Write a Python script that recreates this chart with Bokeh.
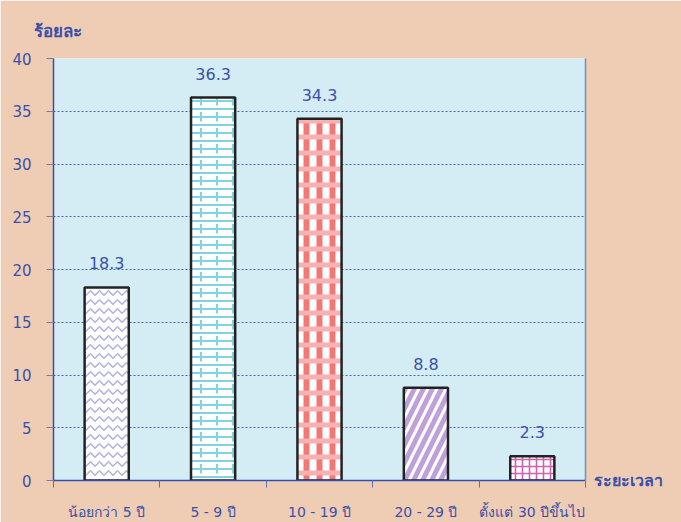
from bokeh.plotting import figure
from bokeh.models import ColumnDataSource, LabelSet, FixedTicker, LinearAxis, Range1d, Title
from bokeh.core.properties import value
from bokeh.embed import file_html
from bokeh.resources import INLINE

# ---- data ----
categories = ["น้อยกว่า 5 ปี", "5 - 9 ปี", "10 - 19 ปี", "20 - 29 ปี", "ตั้งแต่ 30 ปีขึ้นไป"]
values = [18.3, 36.3, 34.3, 8.8, 2.3]
y_ticks = [0, 5, 10, 15, 20, 25, 30, 35, 40]
y_title = "ร้อยละ"
x_title = "ระยะเวลา"

# ---- styles ----
hatch1 = ["horizontal_wave", "horizontal_line", "vertical_line", "right_diagonal_line", "cross"]
hcol1 = ["#b0b0e0", "#80d4dc", "#f07878", "#c0a0d8", "#d060b0"]
hw1 = [1.5, 2, 6, 5, 1.6]
hs1 = [9, 8, 13, 18, 7]
hatch2 = [" ", "vertical_dash", "horizontal_line", " ", " "]
hcol2 = ["#ffffff", "#80d4dc", "#f8b0b0", "#ffffff", "#ffffff"]
hw2 = [1, 2, 5, 1, 1]
hs2 = [10, 16, 16, 10, 10]

TXT = "#3a50a8"
FONT = "DejaVu Sans"

n = len(categories)
xs = [i + 0.5 for i in range(n)]

src = ColumnDataSource(dict(x=xs, top=values, cat=categories,
                            label=[f"{v:.1f}" for v in values],
                            h1=hatch1, c1=hcol1, w1=hw1, s1=hs1,
                            h2=hatch2, c2=hcol2, w2=hw2, s2=hs2))

p = figure(width=681, height=522, output_backend="svg", toolbar_location=None,
           x_range=Range1d(0, n), y_range=Range1d(0, 40),
           min_border_left=53, min_border_right=96, min_border_top=57, min_border_bottom=42)
p.extra_y_ranges = {"xt": Range1d(0, 40)}

p.border_fill_color = "#efcdb5"
p.background_fill_color = "#d4ecf4"
p.outline_line_color = None

p.xgrid.grid_line_color = None
p.ygrid.ticker = FixedTicker(ticks=y_ticks)
p.ygrid.grid_line_color = "#4a60b0"
p.ygrid.grid_line_dash = "2 2"
p.ygrid.grid_line_width = 1

BW = 0.415
p.vbar(x="x", top="top", width=BW, bottom=0, source=src, fill_color="white",
       line_color=None, hatch_pattern="h1", hatch_color="c1", hatch_weight="w1", hatch_scale="s1")
p.vbar(x="x", top="top", width=BW, bottom=0, source=src, fill_color=None,
       line_color=None, hatch_pattern="h2", hatch_color="c2", hatch_weight="w2", hatch_scale="s2")
p.vbar(x="x", top="top", width=BW, bottom=0, source=src, fill_color=None,
       line_color="#222222", line_width=2.5)

labels = LabelSet(x="x", y="top", text="label", source=src, y_offset=24,
                  text_align="center", text_baseline="middle", text_color=TXT,
                  text_font_size="16px", text_font=value(FONT))
p.add_layout(labels)

# y axis
ya = p.yaxis[0]
ya.ticker = FixedTicker(ticks=y_ticks)
ya.axis_line_color = "#3050b0"
ya.axis_line_width = 1.5
ya.major_tick_line_color = "#7080a0"
ya.major_tick_out = 7
ya.major_tick_in = 0
ya.minor_tick_line_color = None
ya.major_label_text_color = TXT
ya.major_label_text_font_size = "15px"
ya.major_label_text_font = FONT
ya.major_label_standoff = 15

# x axis
xa = p.xaxis[0]
xa.ticker = FixedTicker(ticks=xs, minor_ticks=list(range(n + 1)))
xa.major_label_overrides = {x: c for x, c in zip(xs, categories)}
xa.axis_line_color = "#3050b0"
xa.axis_line_width = 1.5
xa.major_tick_line_color = None
xa.major_tick_out = 0
xa.major_tick_in = 0
xa.minor_tick_line_color = "#6070b8"
xa.minor_tick_out = 7
xa.minor_tick_in = 0
xa.major_label_text_color = TXT
xa.major_label_text_font_size = "14px"
xa.major_label_text_font = FONT
xa.major_label_standoff = 16

# right border line, whose single tick label (at the bottom) carries the x title
ra = LinearAxis(y_range_name="xt", ticker=FixedTicker(ticks=[y_ticks[0]]),
                axis_line_color="#7a88c8", axis_line_width=1.5,
                major_tick_line_color=None, minor_tick_line_color=None,
                major_tick_out=0, major_tick_in=0,
                major_label_overrides={y_ticks[0]: x_title},
                major_label_text_color=TXT, major_label_text_font_size="16px",
                major_label_text_font=FONT, major_label_text_font_style="bold",
                major_label_text_align="left", major_label_text_baseline="top",
                major_label_standoff=8)
p.add_layout(ra, "right")

# y title as left-aligned title above the frame
t = Title(text=y_title, align="left", offset=-20, text_color=TXT, text_font_size="17px",
          text_font=FONT, text_font_style="bold", standoff=36)
p.add_layout(t, "above")

open("out.html", "w").write(file_html(p, INLINE))
